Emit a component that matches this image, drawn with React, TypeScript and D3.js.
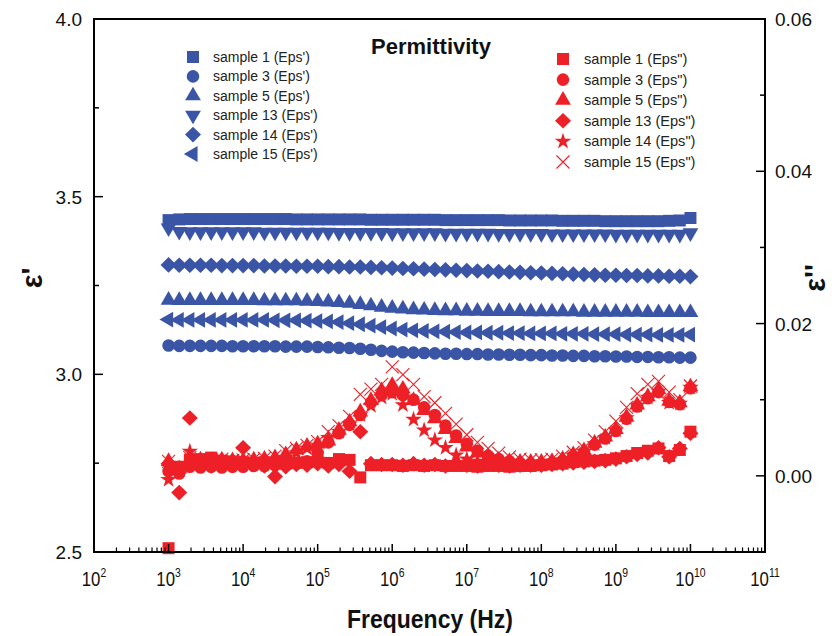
import React from "react";
import * as d3 from "d3";

const width = 832;
const height = 636;
const plotLeft = 94;
const plotRight = 765;
const plotTop = 19;
const plotBottom = 552;

const blue = "#3A55A5";
const red = "#EE2027";
const font = "'Liberation Sans', Arial, sans-serif";

// log sweep, 7 points per decade, 1 kHz .. 10 GHz
const freq = [
  1e3, 1.39e3, 1.93e3, 2.68e3, 3.73e3, 5.18e3, 7.2e3,
  1e4, 1.39e4, 1.93e4, 2.68e4, 3.73e4, 5.18e4, 7.2e4,
  1e5, 1.39e5, 1.93e5, 2.68e5, 3.73e5, 5.18e5, 7.2e5,
  1e6, 1.39e6, 1.93e6, 2.68e6, 3.73e6, 5.18e6, 7.2e6,
  1e7, 1.39e7, 1.93e7, 2.68e7, 3.73e7, 5.18e7, 7.2e7,
  1e8, 1.39e8, 1.93e8, 2.68e8, 3.73e8, 5.18e8, 7.2e8,
  1e9, 1.39e9, 1.93e9, 2.68e9, 3.73e9, 5.18e9, 7.2e9,
  1e10,
];

// eps' (left axis)
const epsR1 = [
  3.434, 3.436, 3.437, 3.437, 3.437, 3.437, 3.437,
  3.437, 3.437, 3.437, 3.437, 3.437, 3.436, 3.436,
  3.436, 3.436, 3.436, 3.436, 3.436, 3.435, 3.435,
  3.435, 3.435, 3.435, 3.435, 3.435, 3.434, 3.434,
  3.434, 3.434, 3.434, 3.434, 3.433, 3.433, 3.433,
  3.433, 3.433, 3.432, 3.432, 3.432, 3.432, 3.431,
  3.431, 3.431, 3.431, 3.431, 3.431, 3.432, 3.433,
  3.44,
];
const epsR3 = [
  3.081, 3.08, 3.08, 3.08, 3.08, 3.08, 3.079,
  3.079, 3.079, 3.079, 3.079, 3.078, 3.078, 3.078,
  3.077, 3.076, 3.075, 3.074, 3.072, 3.069, 3.066,
  3.064, 3.062, 3.061, 3.06, 3.059, 3.058, 3.058,
  3.057, 3.057, 3.056, 3.056, 3.055, 3.055, 3.054,
  3.054, 3.053, 3.053, 3.052, 3.052, 3.051, 3.051,
  3.05, 3.05, 3.049, 3.049, 3.048, 3.048, 3.047,
  3.047,
];
const epsR5 = [
  3.209, 3.208, 3.208, 3.208, 3.208, 3.208, 3.208,
  3.208, 3.208, 3.207, 3.207, 3.207, 3.207, 3.206,
  3.205, 3.204, 3.202, 3.2, 3.197, 3.193, 3.189,
  3.186, 3.184, 3.182, 3.181, 3.18, 3.179, 3.179,
  3.178, 3.178, 3.177, 3.177, 3.177, 3.177, 3.176,
  3.176, 3.176, 3.176, 3.176, 3.175, 3.175, 3.175,
  3.175, 3.175, 3.175, 3.174, 3.174, 3.174, 3.174,
  3.174,
];
const epsR13 = [
  3.412, 3.402, 3.401, 3.401, 3.401, 3.401, 3.401,
  3.401, 3.401, 3.4, 3.4, 3.4, 3.4, 3.4,
  3.4, 3.4, 3.399, 3.399, 3.399, 3.399, 3.399,
  3.398, 3.398, 3.398, 3.398, 3.398, 3.397, 3.397,
  3.397, 3.397, 3.397, 3.396, 3.396, 3.396, 3.396,
  3.396, 3.395, 3.395, 3.395, 3.395, 3.395, 3.395,
  3.394, 3.394, 3.394, 3.394, 3.394, 3.394, 3.394,
  3.398,
];
const epsR14 = [
  3.308, 3.307, 3.307, 3.307, 3.307, 3.306, 3.306,
  3.306, 3.306, 3.305, 3.305, 3.305, 3.304, 3.304,
  3.304, 3.303, 3.303, 3.302, 3.302, 3.301, 3.3,
  3.299, 3.298, 3.297, 3.296, 3.295, 3.294, 3.293,
  3.292, 3.291, 3.29, 3.289, 3.288, 3.287, 3.286,
  3.285, 3.284, 3.283, 3.282, 3.281, 3.28, 3.279,
  3.279, 3.278, 3.278, 3.277, 3.277, 3.276, 3.276,
  3.275,
];
const epsR15 = [
  3.154, 3.153, 3.153, 3.153, 3.153, 3.153, 3.153,
  3.153, 3.153, 3.153, 3.152, 3.152, 3.152, 3.151,
  3.15, 3.149, 3.147, 3.144, 3.141, 3.137, 3.133,
  3.129, 3.126, 3.124, 3.122, 3.121, 3.12, 3.119,
  3.118, 3.118, 3.117, 3.117, 3.116, 3.116, 3.115,
  3.115, 3.115, 3.114, 3.114, 3.114, 3.113, 3.113,
  3.113, 3.112, 3.112, 3.112, 3.111, 3.111, 3.111,
  3.112,
];

// eps'' (right axis)
const epsI1 = [
  -0.0095, 0.0012, 0.0021, 0.0022, 0.0024, 0.002, 0.0019,
  0.0018, 0.0017, 0.0018, 0.0017, 0.0016, 0.0017, 0.0018,
  0.0019, 0.0017, 0.0022, 0.0021, -0.0002, 0.0014, 0.0014,
  0.0014, 0.0013, 0.0014, 0.0013, 0.0014, 0.0013, 0.0013,
  0.0013, 0.0012, 0.0013, 0.0013, 0.0012, 0.0013, 0.0013,
  0.0014, 0.0015, 0.0016, 0.0018, 0.0019, 0.002, 0.0021,
  0.0023, 0.0026, 0.003, 0.0033, 0.0036, 0.0026, 0.0034,
  0.0058,
];
const epsI3 = [
  0.0006, 0.0003, 0.0012, 0.0011, 0.0012, 0.0011, 0.0012,
  0.0012, 0.0013, 0.0013, 0.0014, 0.0015, 0.0017, 0.0019,
  0.003, 0.0044, 0.0056, 0.0067, 0.008, 0.0096, 0.0106,
  0.011, 0.0106, 0.01, 0.009, 0.008, 0.0066, 0.0053,
  0.0042, 0.0033, 0.0026, 0.0022, 0.0019, 0.0017, 0.0016,
  0.0016, 0.0017, 0.002, 0.0026, 0.0031, 0.0041, 0.0049,
  0.0059, 0.0075, 0.0091, 0.0102, 0.011, 0.0097, 0.0094,
  0.0115,
];
const epsI5 = [
  0.0019, 0.0009, 0.002, 0.0021, 0.002, 0.0021, 0.002,
  0.002, 0.0021, 0.0022, 0.0024, 0.0028, 0.0034, 0.0039,
  0.0042, 0.0046, 0.006, 0.0071, 0.0084, 0.0099, 0.0112,
  0.0119, 0.0114, 0.0099, 0.0086, 0.0075, 0.0061, 0.0049,
  0.0038, 0.003, 0.0025, 0.0021, 0.0019, 0.0018, 0.0018,
  0.0018, 0.0019, 0.0022, 0.0028, 0.0033, 0.0043, 0.0051,
  0.0061, 0.0077, 0.0093, 0.0104, 0.0113, 0.0098, 0.0096,
  0.0117,
];
const epsI13 = [
  0.0016, -0.0022, 0.0076, 0.0016, 0.0013, 0.0017, 0.0014,
  0.0037, 0.0015, 0.0013, -0.0001, 0.0012, 0.0015, 0.0014,
  0.0016, 0.0013, 0.0015, 0.0006, 0.0058, 0.0016, 0.0015,
  0.0015, 0.0014, 0.0016, 0.0014, 0.0015, 0.0013, 0.0015,
  0.0014, 0.0013, 0.0015, 0.0014, 0.0013, 0.0014, 0.0014,
  0.0014, 0.0015, 0.0016, 0.0017, 0.0018, 0.0019, 0.002,
  0.0022, 0.0025, 0.0028, 0.003, 0.0037, 0.0025, 0.0036,
  0.0056,
];
const epsI14 = [
  -0.0005, 0.001, 0.0032, 0.0019, 0.0018, 0.0019, 0.0018,
  0.0018, 0.0019, 0.0019, 0.0021, 0.0024, 0.003, 0.0036,
  0.004, 0.005, 0.0058, 0.0068, 0.008, 0.0092, 0.0103,
  0.0108, 0.0093, 0.0074, 0.006, 0.0047, 0.0037, 0.0027,
  0.0022, 0.0019, 0.0018, 0.0017, 0.0017, 0.0017, 0.0017,
  0.0017, 0.0018, 0.0021, 0.0027, 0.0032, 0.0042, 0.005,
  0.006, 0.0076, 0.0092, 0.0103, 0.0111, 0.0096, 0.0095,
  0.0116,
];
const epsI15 = [
  0.0019, 0.0012, 0.0024, 0.002, 0.0021, 0.0022, 0.002,
  0.0021, 0.0022, 0.0023, 0.0026, 0.0033, 0.0036, 0.004,
  0.0045, 0.0058, 0.0066, 0.0078, 0.0107, 0.0114, 0.012,
  0.0143, 0.0133, 0.012, 0.0104, 0.0096, 0.0082, 0.0068,
  0.0054, 0.0044, 0.0036, 0.003, 0.0025, 0.0022, 0.0021,
  0.0021, 0.0022, 0.0026, 0.0031, 0.0037, 0.0047, 0.0058,
  0.0072, 0.009, 0.0108, 0.012, 0.0124, 0.011, 0.01,
  0.0118,
];

const seriesReal = [
  { label: "sample 1 (Eps')", values: epsR1, shape: "square" },
  { label: "sample 3 (Eps')", values: epsR3, shape: "circle" },
  { label: "sample 5 (Eps')", values: epsR5, shape: "up" },
  { label: "sample 13 (Eps')", values: epsR13, shape: "down" },
  { label: "sample 14 (Eps')", values: epsR14, shape: "diamond" },
  { label: "sample 15 (Eps')", values: epsR15, shape: "left" },
];
const seriesImag = [
  { label: 'sample 1 (Eps")', values: epsI1, shape: "square" },
  { label: 'sample 3 (Eps")', values: epsI3, shape: "circle" },
  { label: 'sample 5 (Eps")', values: epsI5, shape: "up" },
  { label: 'sample 13 (Eps")', values: epsI13, shape: "diamond" },
  { label: 'sample 14 (Eps")', values: epsI14, shape: "star" },
  { label: 'sample 15 (Eps")', values: epsI15, shape: "cross" },
];

const x = d3.scaleLog().domain([1e2, 1e11]).range([plotLeft, plotRight]);
const yLeft = d3.scaleLinear().domain([2.5, 4]).range([plotBottom, plotTop]);
const yRight = d3.scaleLinear().domain([-0.01, 0.06]).range([plotBottom, plotTop]);

const trianglePath = d3.symbol(d3.symbolTriangle, 108)() as string;
const paths: Record<string, string> = {
  square: d3.symbol(d3.symbolSquare, 144)() as string,
  circle: d3.symbol(d3.symbolCircle, 124)() as string,
  up: trianglePath,
  down: trianglePath,
  left: trianglePath,
  diamond: "M0,-7.8L8,0L0,7.8L-8,0Z",
  star: d3.symbol(d3.symbolStar, 85)() as string,
  cross: "M-6.5,-6.5L6.5,6.5M-6.5,6.5L6.5,-6.5",
};
const rotation: Record<string, number> = { down: 180, left: -90 };

const Marker = ({ shape, cx, cy, color }: { shape: string; cx: number; cy: number; color: string }) => {
  const rot = rotation[shape] || 0;
  const isCross = shape === "cross";
  return (
    <path
      d={paths[shape]}
      transform={`translate(${cx},${cy})${rot ? ` rotate(${rot})` : ""}`}
      fill={isCross ? "none" : color}
      stroke={isCross ? color : "none"}
      strokeWidth={isCross ? 1.1 : 0}
    />
  );
};

const decades = d3.range(2, 12);
const minorX = d3.range(2, 11).flatMap((e) => d3.range(2, 10).map((m) => m * Math.pow(10, e)));
const leftMajor = [2.5, 3.0, 3.5, 4.0];
const leftMinor = [2.75, 3.25, 3.75];
const rightMajor = [0, 0.02, 0.04, 0.06];
const rightMinor = [-0.01, 0.01, 0.03, 0.05];

export default function App() {
  return (
    <svg
      width={width}
      height={height}
      style={{ position: "absolute", left: 0, top: 0, background: "#fff" }}
      fontFamily={font}
    >
      <rect width={width} height={height} fill="#fff" />

      {/* data: eps' then eps'' */}
      {seriesReal.map((s) => (
        <g key={s.label}>
          {s.values.map((v, i) => (
            <Marker key={i} shape={s.shape} cx={x(freq[i])} cy={yLeft(v)} color={blue} />
          ))}
        </g>
      ))}
      {seriesImag.map((s) => (
        <g key={s.label}>
          {s.values.map((v, i) => (
            <Marker key={i} shape={s.shape} cx={x(freq[i])} cy={yRight(v)} color={red} />
          ))}
        </g>
      ))}

      {/* frame */}
      <rect
        x={plotLeft}
        y={plotTop}
        width={plotRight - plotLeft}
        height={plotBottom - plotTop}
        fill="none"
        stroke="#000"
        strokeWidth={2}
      />

      {/* bottom axis */}
      {decades.map((e) => (
        <g key={e}>
          <line x1={x(Math.pow(10, e))} x2={x(Math.pow(10, e))} y1={plotBottom} y2={plotBottom - 8} stroke="#000" strokeWidth={1.5} />
          <g transform={`translate(${x(Math.pow(10, e))},586) scale(0.8,1)`}>
            <text textAnchor="middle" fontSize={21} fill="#111">
              10<tspan dy={-9} fontSize={13}>{e}</tspan>
            </text>
          </g>
        </g>
      ))}
      {minorX.map((m) => (
        <line key={m} x1={x(m)} x2={x(m)} y1={plotBottom} y2={plotBottom - 4.5} stroke="#000" strokeWidth={1.2} />
      ))}

      {/* left axis */}
      {leftMajor.map((t) => (
        <g key={t}>
          <line x1={plotLeft} x2={plotLeft + 9} y1={yLeft(t)} y2={yLeft(t)} stroke="#000" strokeWidth={1.5} />
          <text x={82} y={yLeft(t) + 7} textAnchor="end" fontSize={19} fill="#111">
            {t.toFixed(1)}
          </text>
        </g>
      ))}
      {leftMinor.map((t) => (
        <line key={t} x1={plotLeft} x2={plotLeft + 5} y1={yLeft(t)} y2={yLeft(t)} stroke="#000" strokeWidth={1.5} />
      ))}

      {/* right axis */}
      {rightMajor.map((t) => (
        <g key={t}>
          <line x1={plotRight} x2={plotRight - 9} y1={yRight(t)} y2={yRight(t)} stroke="#000" strokeWidth={1.5} />
          <text x={775} y={yRight(t) + 7} textAnchor="start" fontSize={19} fill="#111">
            {t.toFixed(2)}
          </text>
        </g>
      ))}
      {rightMinor.map((t) => (
        <line key={t} x1={plotRight} x2={plotRight - 5} y1={yRight(t)} y2={yRight(t)} stroke="#000" strokeWidth={1.5} />
      ))}

      {/* axis titles */}
      <text x={430} y={628} textAnchor="middle" fontSize={25} fontWeight="bold" textLength={166} lengthAdjust="spacingAndGlyphs" fill="#111">
        Frequency (Hz)
      </text>
      <text transform="translate(42,278) rotate(-90)" textAnchor="middle" fontSize={29} fontWeight="bold" fill="#111">
        ε'
      </text>
      <text transform="translate(825,278) rotate(-90)" textAnchor="middle" fontSize={29} fontWeight="bold" fill="#111">
        ε''
      </text>
      <text x={431} y={54} textAnchor="middle" fontSize={22} fontWeight="bold" fill="#111">
        Permittivity
      </text>

      {/* legends */}
      {seriesReal.map((s, k) => (
        <g key={s.label} transform={`translate(193,${57 + k * 19.4})`}>
          <Marker shape={s.shape} cx={0} cy={0} color={blue} />
          <text x={20} y={5} fontSize={14} fill="#222">{s.label}</text>
        </g>
      ))}
      {seriesImag.map((s, k) => (
        <g key={s.label} transform={`translate(563,${59 + k * 20.6})`}>
          <Marker shape={s.shape} cx={0} cy={0} color={red} />
          <text x={21} y={5} fontSize={14.6} fill="#222">{s.label}</text>
        </g>
      ))}
    </svg>
  );
}
